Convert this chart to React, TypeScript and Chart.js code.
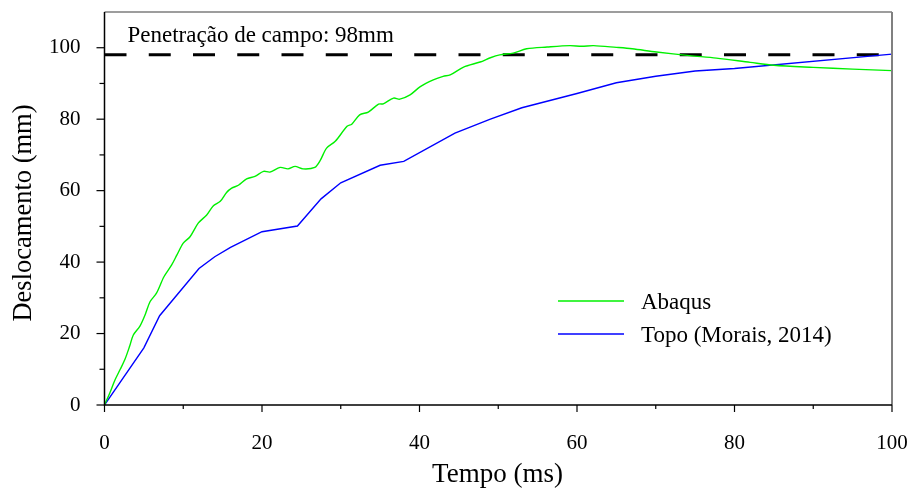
import { useEffect, useRef } from "react";
import { Chart, registerables } from "chart.js";

Chart.register(...registerables);

// Abaqus simulation: displacement (mm) over time (ms)
const abaqusTime = [
  0, 0.7, 1.33, 2.0, 2.6, 3.2, 3.66, 4.5, 5.2, 5.78, 6.6, 7.55, 8.53, 9.2, 10.0,
  10.86, 11.9, 12.98, 13.8, 14.7, 15.5, 16.15, 17.0, 18.05, 19.1, 20.2, 21.0,
  22.3, 23.3, 24.2, 25.2, 26.7, 27.4, 28.2, 29.3, 30.8, 31.4, 32.4, 33.5, 34.8,
  35.4, 36.7, 37.5, 38.8, 40.1, 41.75, 43.0, 43.9, 45.6, 47.7, 49.0, 50.2, 51.9,
  53.6, 56.2, 59.1, 60.6, 62.1, 65.0, 67.0, 70.1, 74.3, 77.7, 82.0, 85.0, 90.0,
  95.0, 100.0,
];
const abaqusDisp = [
  0, 3.5, 7.0, 10.0, 12.8, 16.5, 19.6, 22.1, 25.5, 28.9, 31.3, 35.9, 39.2, 42.0,
  45.3, 47.1, 50.9, 53.2, 55.7, 57.0, 59.5, 60.7, 61.5, 63.3, 64.0, 65.4, 65.2,
  66.5, 66.1, 66.8, 66.1, 66.5, 68.5, 71.9, 73.8, 78.0, 78.6, 81.2, 82.0, 84.2,
  84.3, 85.9, 85.6, 86.8, 89.1, 91.0, 92.0, 92.4, 94.6, 96.0, 97.2, 98.0, 98.5,
  99.7, 100.2, 100.6, 100.4, 100.6, 100.1, 99.7, 98.8, 97.8, 97.1, 95.9, 95.1,
  94.5, 94.0, 93.6,
];

// Topo (Morais, 2014): displacement (mm) over time (ms)
const topoTime = [
  0, 5, 7, 12, 14, 16, 20, 24.5, 27.5, 30, 35, 38, 44.5, 49, 53, 60, 65, 70, 75,
  80, 100,
];
const topoDisp = [
  0, 16, 25, 38.2, 41.5, 44.1, 48.5, 50.1, 57.7, 62.2, 67.1, 68.2, 76.1, 80.0,
  83.2, 87.2, 90.2, 92.0, 93.5, 94.2, 98.2,
];

// Field penetration reference level (mm)
const fieldPenetration = 98;
const referenceTime = [0, 100];

const seriesLabels = ["Abaqus", "Topo (Morais, 2014)"];
const seriesColors = ["#00f000", "#0000ff"];
const annotationText = "Penetração de campo: 98mm";
const xTitle = "Tempo (ms)";
const yTitle = "Deslocamento (mm)";

const xMin = 0;
const xMax = 100;
const yMin = 0;
const yMax = 110;
const tickStep = 10;
const labelledTicks = [0, 20, 40, 60, 80, 100];

const SERIF = '"Liberation Serif", "Times New Roman", Times, serif';

const decorPlugin = {
  id: "decor",
  afterDraw(chart: any) {
    const { ctx, chartArea: a, scales } = chart;
    const xs = scales.x;
    const ys = scales.y;
    ctx.save();

    // frame: top and right edges
    ctx.strokeStyle = "#3c3c3c";
    ctx.lineWidth = 1.2;
    ctx.beginPath();
    ctx.moveTo(a.left, a.top);
    ctx.lineTo(a.right, a.top);
    ctx.stroke();
    ctx.strokeStyle = "#808080";
    ctx.lineWidth = 2;
    ctx.beginPath();
    ctx.moveTo(a.right, a.top);
    ctx.lineTo(a.right, a.bottom);
    ctx.stroke();

    // axis lines
    ctx.strokeStyle = "#000";
    ctx.lineWidth = 1.5;
    ctx.beginPath();
    ctx.moveTo(a.left, a.top);
    ctx.lineTo(a.left, a.bottom);
    ctx.lineTo(a.right, a.bottom);
    ctx.stroke();

    // tick marks (major where labelled, minor otherwise)
    ctx.lineWidth = 1.2;
    xs.ticks.forEach((t: any) => {
      const major = labelledTicks.includes(t.value);
      const px = xs.getPixelForValue(t.value);
      ctx.beginPath();
      ctx.moveTo(px, a.bottom);
      ctx.lineTo(px, a.bottom + (major ? 7 : 4));
      ctx.stroke();
    });
    ys.ticks.forEach((t: any) => {
      if (t.value > 100) return;
      const major = labelledTicks.includes(t.value);
      const py = ys.getPixelForValue(t.value);
      ctx.beginPath();
      ctx.moveTo(a.left, py);
      ctx.lineTo(a.left - (major ? 8 : 5), py);
      ctx.stroke();
    });

    // annotation for the reference line
    ctx.fillStyle = "#000";
    ctx.font = `23px ${SERIF}`;
    ctx.textAlign = "left";
    ctx.textBaseline = "alphabetic";
    ctx.fillText(annotationText, a.left + 23, 41.5);

    // legend
    const legendY = [301, 334];
    seriesLabels.forEach((label, i) => {
      ctx.strokeStyle = seriesColors[i];
      ctx.lineWidth = 1.3;
      ctx.beginPath();
      ctx.moveTo(558, legendY[i]);
      ctx.lineTo(624, legendY[i]);
      ctx.stroke();
      ctx.fillStyle = "#000";
      ctx.font = `23px ${SERIF}`;
      ctx.textBaseline = "alphabetic";
      ctx.fillText(label, 641, legendY[i] + 7.5);
    });

    // axis titles
    ctx.font = `27px ${SERIF}`;
    ctx.textAlign = "center";
    ctx.textBaseline = "alphabetic";
    ctx.fillText(xTitle, 497.5, 482);
    ctx.save();
    ctx.font = `26.5px ${SERIF}`;
    ctx.translate(31, 213);
    ctx.rotate(-Math.PI / 2);
    ctx.fillText(yTitle, 0, 0);
    ctx.restore();

    ctx.restore();
  },
};

export default function App() {
  const canvasRef = useRef<HTMLCanvasElement | null>(null);

  useEffect(() => {
    const canvas = canvasRef.current;
    if (!canvas) return;

    const toPoints = (xsArr: number[], ysArr: number[]) =>
      xsArr.map((x, i) => ({ x, y: ysArr[i] }));

    const chart = new Chart(canvas, {
      type: "line",
      data: {
        datasets: [
          {
            label: seriesLabels[0],
            data: toPoints(abaqusTime, abaqusDisp),
            borderColor: seriesColors[0],
            borderWidth: 1.4,
            pointRadius: 0,
            tension: 0.3,
            fill: false,
          },
          {
            label: seriesLabels[1],
            data: toPoints(topoTime, topoDisp),
            borderColor: seriesColors[1],
            borderWidth: 1.4,
            pointRadius: 0,
            tension: 0,
            fill: false,
          },
          {
            label: "ref",
            data: toPoints(referenceTime, referenceTime.map(() => fieldPenetration)),
            borderColor: "#000",
            borderWidth: 3,
            borderDash: [22, 22.25],
            pointRadius: 0,
            tension: 0,
            fill: false,
          },
        ],
      },
      options: {
        responsive: false,
        animation: false,
        layout: { padding: { top: 12, right: 21, left: 0, bottom: 0 } },
        plugins: {
          legend: { display: false },
          tooltip: { enabled: false },
        },
        scales: {
          x: {
            type: "linear",
            min: xMin,
            max: xMax,
            grid: { display: false, drawTicks: false },
            border: { display: false },
            ticks: {
              stepSize: tickStep,
              autoSkip: false,
              maxRotation: 0,
              padding: 26,
              color: "#000",
              font: { family: SERIF, size: 21 },
              callback: (v: any) => (labelledTicks.includes(Number(v)) ? String(v) : ""),
            },
            afterFit: (s: any) => {
              s.height = 86;
              s.paddingLeft = 0;
              s.paddingRight = 0;
            },
          },
          y: {
            type: "linear",
            min: yMin,
            max: yMax,
            grid: { display: false, drawTicks: false },
            border: { display: false },
            ticks: {
              stepSize: tickStep,
              autoSkip: false,
              padding: 24,
              color: "#000",
              font: { family: SERIF, size: 21 },
              callback: (v: any) => (labelledTicks.includes(Number(v)) ? String(v) : ""),
            },
            afterFit: (s: any) => {
              s.width = 104.5;
              s.paddingTop = 0;
              s.paddingBottom = 0;
            },
          },
        },
      },
      plugins: [decorPlugin],
    });

    return () => chart.destroy();
  }, []);

  return (
    <div style={{ position: "absolute", left: 0, top: 0, width: 913, height: 491, background: "#fff" }}>
      <canvas ref={canvasRef} width={913} height={491} style={{ display: "block" }} />
    </div>
  );
}
